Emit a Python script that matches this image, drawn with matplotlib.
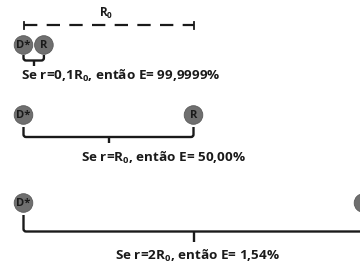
import matplotlib
matplotlib.use("Agg")
import matplotlib.pyplot as plt
from matplotlib.patches import Circle
from matplotlib.path import Path
from matplotlib.patches import PathPatch

plt.rcParams['font.family'] = ['Open Sans', 'DejaVu Sans']
plt.rcParams['mathtext.fontset'] = 'custom'
plt.rcParams['mathtext.rm'] = 'Open Sans:bold'
plt.rcParams['mathtext.it'] = 'Open Sans:bold'
plt.rcParams['mathtext.bf'] = 'Open Sans:bold'

# Data
r_labels = ["0,1R$_0$", "R$_0$", "2R$_0$"]
efficiencies = ["99,9999%", "50,00%", "1,54%"]
acceptor_pos = [0.12, 1.0, 2.0]       # drawn acceptor position, in units of R0
row_y = [45, 115, 203]                # circle centre rows (pixels)
donor_label = "D*"
acceptor_label = "R"

W, H = 360, 264
fig = plt.figure(figsize=(W / 100, H / 100), dpi=100)
ax = fig.add_axes([0, 0, 1, 1])
ax.set_xlim(0, W)
ax.set_ylim(H, 0)
ax.axis('off')

x0 = 23.5
R0 = 170.0
rad = 9.3
circ_color = '#6f6f6f'
ink = '#1a1a1a'

# R0 ruler
ax.plot([x0, x0 + R0], [25, 25], color=ink, lw=1.6, dashes=(6, 4.2), solid_capstyle='butt')
for xx in (x0, x0 + R0):
    ax.plot([xx, xx], [21.5, 28.5], color=ink, lw=1.3)
ax.text(x0 + R0 / 2 - 2, 21, "R$_0$", ha='center', va='bottom', fontsize=8.5,
        fontweight='bold', color=ink)

def bracket(xa, xb, ytop, ybar, ytip):
    xm = (xa + xb) / 2
    rr = 2.5
    verts = [(xa, ytop), (xa, ybar - rr), (xa, ybar), (xa + rr, ybar),
             (xb - rr, ybar), (xb, ybar), (xb, ybar - rr), (xb, ytop)]
    codes = [Path.MOVETO, Path.LINETO, Path.CURVE3, Path.CURVE3,
             Path.LINETO, Path.CURVE3, Path.CURVE3, Path.LINETO]
    ax.add_patch(PathPatch(Path(verts, codes), fill=False, lw=1.7, edgecolor=ink,
                           capstyle='butt', joinstyle='round'))
    ax.plot([xm, xm], [ybar, ytip], color=ink, lw=1.7, solid_capstyle='butt')
    return xm

bar_params = [(55, 60.5, 65.5), (127, 137, 143), (215, 231.5, 242)]
text_y = [76, 157.5, 256]
text_x = [21, 81, 115]

for i in range(3):
    cy = row_y[i]
    xd = x0
    xa = x0 + acceptor_pos[i] * R0
    for xx, lab in ((xd, donor_label), (xa, acceptor_label)):
        ax.add_patch(Circle((xx, cy), rad, facecolor=circ_color, edgecolor='#5a5a5a',
                            lw=0.6, clip_on=True))
        if xx < W:
            ax.text(xx, cy + 0.5, lab, ha='center', va='center', fontsize=8,
                    fontweight='bold', color='#1a1a1a')
    ytop, ybar, ytip = bar_params[i]
    bracket(xd, xa, ytop, ybar, ytip)
    s = f"Se r={r_labels[i]}, então E= {efficiencies[i]}"
    ax.text(text_x[i], text_y[i], s, ha='left', va='center', fontsize=9.7,
            fontweight='bold', color=ink)

fig.savefig("out.png", dpi=100)
